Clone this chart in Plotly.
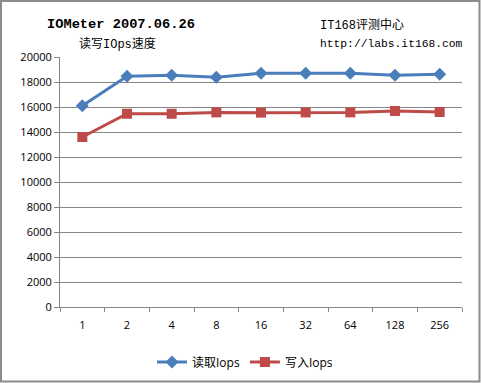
import plotly.graph_objects as go

categories = ["1", "2", "4", "8", "16", "32", "64", "128", "256"]
read_iops = [16100, 18460, 18540, 18380, 18700, 18700, 18700, 18540, 18620]
write_iops = [13600, 15460, 15460, 15570, 15550, 15570, 15570, 15680, 15600]
y_ticks = [0, 2000, 4000, 6000, 8000, 10000, 12000, 14000, 16000, 18000, 20000]
y_tick_text = [str(v) for v in y_ticks]

W, H = 481, 383
L, R, T, B = 60, 19, 57, 76
pw, ph = W - L - R, H - T - B

fig = go.Figure()
fig.add_trace(go.Scatter(
    x=categories, y=read_iops, name="读取Iops", mode="lines+markers",
    line=dict(color="#4A7EBB", width=3),
    marker=dict(symbol="diamond", size=10, color="#4A7EBB"),
))
fig.add_trace(go.Scatter(
    x=categories, y=write_iops, name="写入Iops", mode="lines+markers",
    line=dict(color="#BE4B48", width=3),
    marker=dict(symbol="square", size=10, color="#BE4B48"),
))

def px(x):
    return (x - L) / pw

def py(y):
    return 1 - (y - T) / ph

mono = "Liberation Mono, Noto Sans CJK SC, monospace"
fig.add_annotation(text="<b>IOMeter 2007.06.26</b>", x=px(45), y=py(25), xref="paper", yref="paper",
                   xanchor="left", yanchor="middle", showarrow=False, font=dict(family=mono, size=13.7, color="black"))
fig.add_annotation(text="读写IOps速度", x=px(77), y=py(44), xref="paper", yref="paper",
                   xanchor="left", yanchor="middle", showarrow=False, font=dict(family=mono, size=12, color="black"))
fig.add_annotation(text="IT168评测中心", x=px(318), y=py(25), xref="paper", yref="paper",
                   xanchor="left", yanchor="middle", showarrow=False, font=dict(family=mono, size=12, color="black"))
fig.add_annotation(text="http://labs.it168.com", x=px(318), y=py(44), xref="paper", yref="paper",
                   xanchor="left", yanchor="middle", showarrow=False, font=dict(family=mono, size=11.3, color="black"))

fig.add_shape(type="rect", xref="paper", yref="paper",
              x0=px(1), x1=px(479.5), y0=py(1), y1=py(381.5),
              line=dict(color="#8C8C8C", width=2), fillcolor="rgba(0,0,0,0)")

fig.update_layout(
    width=W, height=H,
    margin=dict(l=L, r=R, t=T, b=B, autoexpand=False),
    paper_bgcolor="white", plot_bgcolor="white",
    font=dict(family="Open Sans, Noto Sans CJK SC, sans-serif", size=11, color="black"),
    showlegend=True,
    legend=dict(orientation="h", x=px(245), xanchor="center", y=py(362), yanchor="middle",
                font=dict(size=12), itemwidth=30),
    xaxis=dict(
        type="category", range=[-0.5, 8.5], tickson="boundaries", ticks="outside",
        ticklen=4, tickcolor="#868686", showline=True, linecolor="#868686", linewidth=1,
        showgrid=False, tickfont=dict(size=11), fixedrange=True, ticklabelstandoff=8,
    ),
    yaxis=dict(
        range=[0, 20000], tickvals=y_ticks, ticktext=y_tick_text, ticks="outside", ticklen=5,
        tickcolor="#868686", showline=True, linecolor="#868686", linewidth=1, showgrid=True,
        gridcolor="#868686", gridwidth=1, zeroline=False, tickfont=dict(size=11), fixedrange=True,
    ),
)

fig.write_html(
    "out.html",
    config={"displayModeBar": False, "responsive": False},
    post_script="document.body.style.margin='0';",
)
